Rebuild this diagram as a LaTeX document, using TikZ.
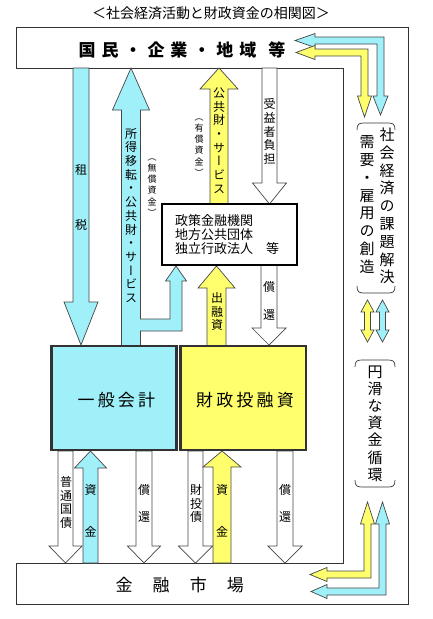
\documentclass[tikz,border=0pt]{standalone}
\usepackage{fontspec}
\newfontfamily\jp{Noto Sans CJK JP}
\newfontfamily\jpv[RawFeature=+vert]{Noto Sans CJK JP}
\newfontfamily\jpsa[LetterSpace=35]{Noto Sans CJK JP}
\newfontfamily\jpsb[LetterSpace=9]{Noto Sans CJK JP}
\newfontfamily\jpsc[LetterSpace=19]{Noto Sans CJK JP}
\definecolor{cy}{RGB}{160,240,250}
\definecolor{ye}{RGB}{255,255,110}
\definecolor{ol}{RGB}{70,70,70}
\definecolor{bx}{RGB}{50,50,50}
\newcommand\varw[7]{%
  \draw[#1] ({#2-#6},#3) -- ({#2-#6},#4) -- ({#2-#7},#4) -- (#2,#5) -- ({#2+#7},#4) -- ({#2+#6},#4) -- ({#2+#6},#3) -- cycle;}
\newcommand\dblarw[2]{%
  \draw[#1] (#2,300) -- ({#2+6.5},312) -- ({#2+3},312) -- ({#2+3},330) -- ({#2+6.5},330) -- (#2,342) -- ({#2-6.5},330) -- ({#2-3},330) -- ({#2-3},312) -- ({#2-6.5},312) -- cycle;}
\begin{document}
\begin{tikzpicture}[x=1pt,y=-1pt,
  arrc/.style={draw=ol,fill=cy,line width=0.7pt,line join=miter},
  arry/.style={draw=ol,fill=ye,line width=0.7pt,line join=miter},
  arrw/.style={draw=ol,fill=white,line width=0.7pt,line join=miter},
  frame/.style={draw=bx,line width=0.8pt},
  brk/.style={draw=bx,line width=0.7pt},
  box/.style={line width=2.7pt,inner sep=0pt},
  vt/.style={font={\jpv\fontsize{12}{13.7}\selectfont},align=center,inner sep=0pt},
  vts/.style={font={\jpv\fontsize{9}{11.2}\selectfont},align=center,inner sep=0pt},
  vtl/.style={font={\jpv\fontsize{15}{17.8}\selectfont},align=center,inner sep=0pt}]
\useasboundingbox (0,0) rectangle (432,619);
% title
\node[font={\jp\fontsize{14}{16}\selectfont},inner sep=0pt] (title) at (211,13) {＜社会経済活動と財政資金の相関図＞};
% frame
\draw[frame] (16,68) -- (16,27) -- (408,27) -- (408,604) -- (16,604) -- (16,563) -- (343,563) -- (343,68) -- cycle;
% arrows top part
\varw{arrc}{81}{68}{302}{345}{8}{17}
\draw[arrc] (121.5,346) -- (121.5,110) -- (112.5,110) -- (131,68) -- (149.5,110) -- (140.5,110) -- (140.5,319) -- (170,319) -- (170,281) -- (165.5,281) -- (176,266) -- (186.5,281) -- (182,281) -- (182,331) -- (140.5,331) -- (140.5,346) -- cycle;
\varw{arry}{219}{204}{89}{68}{9}{19}
\varw{arrw}{269.5}{68}{183}{204}{7.5}{17}
\varw{arrw}{269}{265}{328}{345}{8}{17}
\varw{arry}{216.5}{346}{288}{266}{9.5}{18.5}
% arrows bottom part
\varw{arrw}{65.5}{451}{546}{563}{7.5}{16.5}
\varw{arrc}{90.5}{563}{468}{451}{7.5}{16}
\varw{arrw}{144}{451}{546}{563}{8}{16.5}
\varw{arrw}{195.5}{451}{546}{563}{7.5}{17}
\varw{arry}{222}{563}{467}{451}{9}{19}
\varw{arrw}{285}{451}{546}{563}{8}{17}
% right loop arrows
\draw[arrc] (295,40.5) -- (315,33.5) -- (315,37) -- (384,37) -- (384,96) -- (388,96) -- (380.5,115) -- (373,96) -- (377,96) -- (377,44) -- (315,44) -- (315,47.5) -- cycle;
\draw[arry] (296,52.5) -- (315,45.5) -- (315,49) -- (368,49) -- (368,96) -- (371.5,96) -- (364.5,117) -- (357.5,96) -- (361,96) -- (361,56) -- (315,56) -- (315,59.5) -- cycle;
\draw[arry] (367.5,502) -- (374.5,524) -- (371,524) -- (371,578) -- (327,578) -- (327,581.5) -- (310,574.5) -- (327,567.5) -- (327,571) -- (364,571) -- (364,524) -- (360.5,524) -- cycle;
\draw[arrc] (382.5,502) -- (389.5,524) -- (386,524) -- (386,595) -- (327,595) -- (327,598.5) -- (311,591.5) -- (327,584.5) -- (327,588) -- (379,588) -- (379,524) -- (375.5,524) -- cycle;
\dblarw{arry}{367.5}
\dblarw{arrc}{382.5}
% brackets
\draw[brk] (357,130) .. controls (357,124) and (359,123) .. (364,123) -- (388,123) .. controls (393,123) and (395,124) .. (395,130);
\draw[brk] (357,286) .. controls (357,292) and (359,293) .. (364,293) -- (388,293) .. controls (393,293) and (395,292) .. (395,286);
\draw[brk] (355,367) .. controls (355,361) and (357,360) .. (362,360) -- (388,360) .. controls (393,360) and (395,361) .. (395,367);
\draw[brk] (355,480) .. controls (355,486) and (357,487) .. (362,487) -- (388,487) .. controls (393,487) and (395,486) .. (395,480);
% boxes
\node[box,draw=bx,fill=cy,minimum width=125pt,minimum height=104pt] (ippan) at (114,398) {};
\node[box,draw=bx,fill=ye,minimum width=125.5pt,minimum height=104pt] (zaito) at (243.25,398) {};
\node[box,draw=black,fill=white,minimum width=135pt,minimum height=61pt,text width=109pt,align=left,font={\jp\fontsize{13}{13.75}\selectfont}] (seisaku) at (229.5,234.5) {政策金融機関\\地方公共団体\\独立行政法人　等};
% box texts
\node[font={\jpsa\bfseries\fontsize{17}{20}\selectfont},inner sep=0pt] (kokumin) at (182,49.5) {国民・企業・地域\kern12pt 等};
\node[font={\jpsb\fontsize{17}{20}\selectfont},inner sep=0pt] (kinyu) at (179.75,585) {金　融　市　場};
\node[font={\jpsc\fontsize{17}{20}\selectfont},inner sep=0pt] (ippantxt) at (116.4,400) {一般会計};
\node[font={\jpsc\fontsize{17}{20}\selectfont},inner sep=0pt] (zaitotxt) at (245,400) {財政投融資};
% vertical texts
\node[vt] (so) at (81,170) {租};
\node[vt] (zei) at (81,225) {税};
\node[vt] (shotoku) at (131,215.5) {所\\得\\移\\転\\・\\公\\共\\財\\・\\サ\\ー\\ビ\\ス};
\node[vts] (musho) at (152,187.5) {︵\\無\\償\\資\\金\\︶};
\node[vts] (yusho) at (199,147.5) {︵\\有\\償\\資\\金\\︶};
\node[vt] (kokyo) at (219,140.5) {公\\共\\財\\・\\サ\\ー\\ビ\\ス};
\node[vt] (juekisha) at (269.5,131.5) {受\\益\\者\\負\\担};
\node[vt] (shutsu) at (217,311.5) {出\\融\\資};
\node[vt] (sho1) at (269,287) {償};
\node[vt] (kan1) at (269,315) {還};
\node[vt] (futsu) at (66,502.5) {普\\通\\国\\債};
\node[vt] (shi1) at (90.5,490) {資};
\node[vt] (kin1) at (90.5,532) {金};
\node[vt] (sho2) at (144,490) {償};
\node[vt] (kan2) at (144,517) {還};
\node[vt] (zaitosai) at (196,503.5) {財\\投\\債};
\node[vt] (shi2) at (222,490) {資};
\node[vt] (kin2) at (222,532) {金};
\node[vt] (sho3) at (285,490) {償};
\node[vt] (kan3) at (285,517) {還};
\node[vtl] (shakai) at (387,206) {社\\会\\経\\済\\の\\課\\題\\解\\決};
\node[vtl] (juyo) at (367,204.5) {需\\要\\・\\雇\\用\\の\\創\\造};
\node[vtl,font={\jpv\fontsize{15}{17.2}\selectfont}] (enkatsu) at (375,423.5) {円\\滑\\な\\資\\金\\循\\環};
\end{tikzpicture}
\end{document}
